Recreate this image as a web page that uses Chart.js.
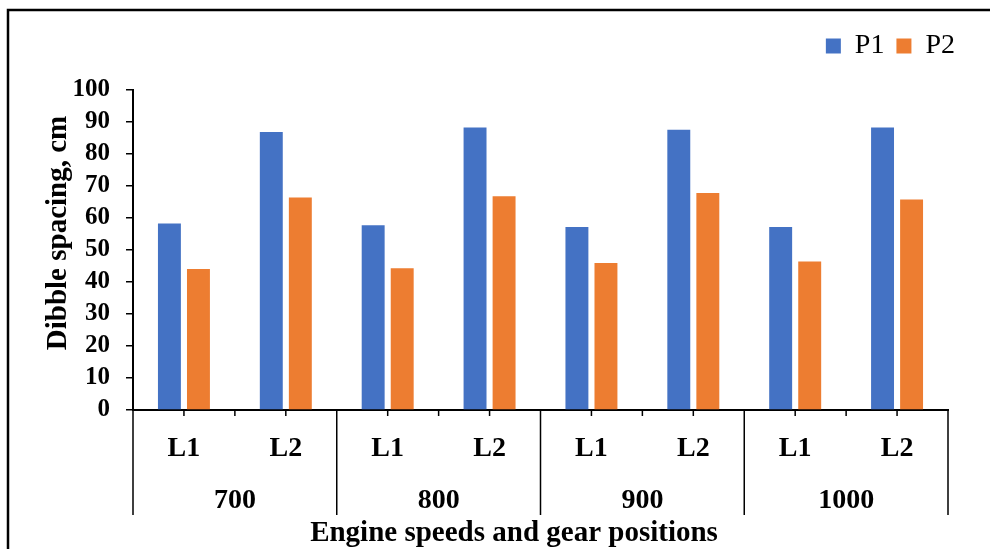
<!DOCTYPE html>
<html>
<head>
<meta charset="utf-8">
<title>Dibble spacing</title>
<script src="https://cdn.jsdelivr.net/npm/chart.js@4.4.1/dist/chart.umd.min.js"></script>
<style>
  html, body { margin: 0; padding: 0; background: #fff; }
  #chart { display: block; }
</style>
</head>
<body>
<canvas id="chart" width="990" height="549"></canvas>
<script>
// gear positions (inner level) and engine speeds (outer level)
const gearLabels = ['L1', 'L2', 'L1', 'L2', 'L1', 'L2', 'L1', 'L2'];
const speedLabels = ['700', '800', '900', '1000'];
const p1Values = [58.3, 86.9, 57.7, 88.3, 57.2, 87.6, 57.2, 88.3];
const p2Values = [44.1, 66.4, 44.3, 66.8, 45.9, 67.8, 46.4, 65.8];
const yTicks = [0, 10, 20, 30, 40, 50, 60, 70, 80, 90, 100];
const yTitle = 'Dibble spacing, cm';
const xTitle = 'Engine speeds and gear positions';

const FONT = '"Liberation Serif", "Times New Roman", serif';

// frame, axis titles, x tick marks and group separators of the two-level axis
const axisDecor = {
    id: 'axisDecor',
    beforeLayout(chart) {
        // leave room between the legend and the plot, as in the original
        const lg = chart.legend;
        if (lg && !lg._padded) {
            const fit = lg.fit;
            lg.fit = function () { fit.call(this); this.height += 20; };
            lg._padded = true;
        }
    },
    afterLayout(chart) {
        chart.legend.left += 19;
        chart.legend.right += 19;
    },
    beforeDraw(chart) {
        const ctx = chart.ctx;
        ctx.save();
        ctx.strokeStyle = '#000';
        ctx.lineWidth = 2.5;
        ctx.strokeRect(8, 10, 1100, 700);
        ctx.restore();
    },
    afterDraw(chart) {
        const ctx = chart.ctx;
        const x = chart.scales.x;
        const x2 = chart.scales.x2;
        const bottom = chart.chartArea.bottom;
        const half = (x.getPixelForValue(1) - x.getPixelForValue(0)) / 2;
        ctx.save();
        ctx.strokeStyle = '#000';
        ctx.lineWidth = 1.5;
        ctx.beginPath();
        for (let i = 0; i < gearLabels.length; i++) {
            const c = x.getPixelForValue(i);
            ctx.moveTo(c, bottom);
            ctx.lineTo(c, bottom + 6);
            ctx.moveTo(c + half, bottom);
            ctx.lineTo(c + half, bottom + 6);
        }
        for (let g = 0; g <= speedLabels.length; g++) {
            const px = x.getPixelForValue(g * 2) - half;
            ctx.moveTo(px, bottom);
            ctx.lineTo(px, x2.top + 45);
        }
        ctx.stroke();

        ctx.fillStyle = '#000';
        ctx.font = 'bold 29px ' + FONT;
        ctx.textAlign = 'center';
        ctx.textBaseline = 'alphabetic';
        ctx.fillText(xTitle, 514, 541);
        ctx.translate(66, 233);
        ctx.rotate(-Math.PI / 2);
        ctx.fillText(yTitle, 0, 0);
        ctx.restore();
    }
};

new Chart(document.getElementById('chart'), {
    type: 'bar',
    data: {
        labels: gearLabels,
        datasets: [
            { label: 'P1', data: p1Values, backgroundColor: '#4472C4' },
            { label: 'P2', data: p2Values, backgroundColor: '#ED7D31' }
        ]
    },
    options: {
        responsive: false,
        animation: false,
        categoryPercentage: 0.57,
        barPercentage: 0.79,
        layout: { padding: { top: 20, right: 42, left: 0, bottom: 0 } },
        plugins: {
            legend: {
                position: 'top',
                align: 'end',
                labels: {
                    boxWidth: 15,
                    boxHeight: 15,
                    padding: 12,
                    color: '#000',
                    font: { family: FONT, size: 28 }
                }
            },
            tooltip: { enabled: false }
        },
        scales: {
            y: {
                min: 0,
                max: 100,
                afterFit(scale) { scale.width = 133; },
                afterBuildTicks(scale) { scale.ticks = yTicks.map(v => ({ value: v })); },
                grid: { drawOnChartArea: false, color: '#000', lineWidth: 1.5, tickLength: 7 },
                border: { color: '#000', width: 2 },
                ticks: { color: '#000', padding: 16, autoSkip: false, font: { family: FONT, size: 25, weight: 'bold' } }
            },
            x: {
                weight: 0,
                afterFit(scale) { scale.height = 60; },
                grid: { display: false },
                border: { color: '#000', width: 2 },
                ticks: { color: '#000', padding: 14, maxRotation: 0, autoSkip: false, font: { family: FONT, size: 28, weight: 'bold' } }
            },
            x2: {
                type: 'category',
                position: 'bottom',
                weight: 1,
                labels: speedLabels,
                offset: true,
                afterFit(scale) { scale.height = 79; },
                grid: { display: false },
                border: { display: false },
                ticks: { color: '#000', padding: 6, maxRotation: 0, autoSkip: false, font: { family: FONT, size: 28, weight: 'bold' } }
            }
        }
    },
    plugins: [axisDecor]
});
</script>
</body>
</html>
